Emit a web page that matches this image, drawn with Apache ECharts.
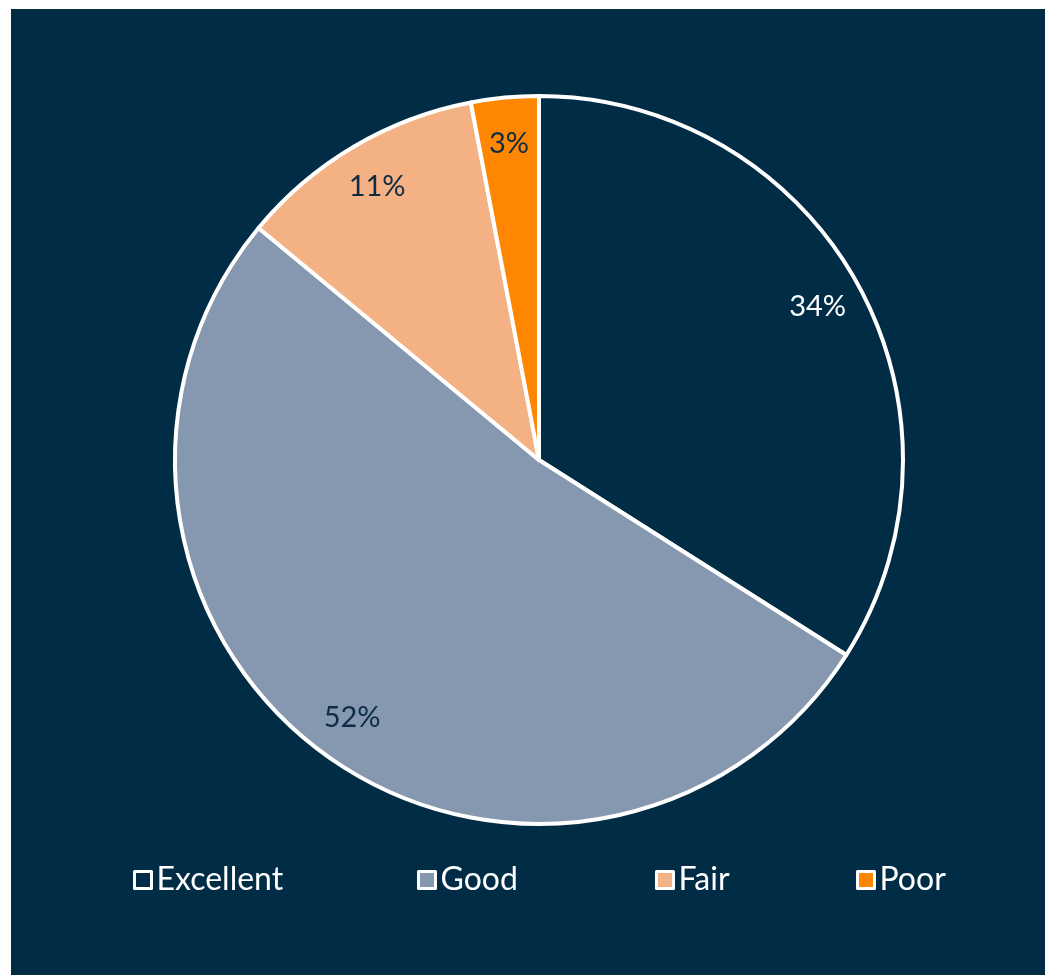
<!DOCTYPE html>
<html>
<head>
<meta charset="utf-8">
<script src="https://cdn.jsdelivr.net/npm/echarts@6/dist/echarts.min.js"></script>
<style>
html,body{margin:0;padding:0;background:#fff;}
#chart{width:1045px;height:975px;}
</style>
</head>
<body>
<div id="chart"></div>
<script>
const categories = ['Excellent', 'Good', 'Fair', 'Poor'];
const values = [34, 52, 11, 3];
const sliceColors = ['#012c46', '#8698b0', '#f4b183', '#ff8600'];
const labelColors = ['#ffffff', '#0d2c46', '#0d2c46', '#0d2c46'];

const FONT = 'Lato, "Open Sans", sans-serif';
const chart = echarts.init(document.getElementById('chart'));

const mainData = categories.map((c, i) => ({
  name: c, value: values[i],
  itemStyle: { color: sliceColors[i] }
}));
const labelData = categories.map((c, i) => ({
  name: c, value: values[i],
  label: { color: labelColors[i] }
}));

const legendLefts = [133, 417, 655, 856];
const legends = categories.map((c, i) => ({
  data: [c],
  left: legendLefts[i],
  top: 864,
  padding: 0,
  itemWidth: 17,
  itemHeight: 17,
  itemGap: 8,
  icon: 'rect',
  itemStyle: { borderColor: '#ffffff', borderWidth: 3 },
  textStyle: { color: '#ffffff', fontSize: 32, fontFamily: FONT, fontWeight: 'normal' },
  selectedMode: false
}));

chart.setOption({
  backgroundColor: '#ffffff',
  animation: false,
  graphic: [{
    type: 'rect', z: -10,
    shape: { x: 11, y: 9, width: 1034, height: 966 },
    style: { fill: '#012c46' }
  }],
  legend: legends,
  series: [
    {
      type: 'pie',
      center: [539, 460],
      radius: 364,
      startAngle: 90,
      clockwise: true,
      data: mainData,
      label: { show: false },
      labelLine: { show: false },
      itemStyle: { borderColor: '#ffffff', borderWidth: 4 },
      emphasis: { disabled: true }
    },
    {
      type: 'pie',
      center: [539, 460],
      radius: [266, 364],
      startAngle: 90,
      clockwise: true,
      silent: true,
      data: labelData,
      itemStyle: { color: 'rgba(0,0,0,0)', borderWidth: 0 },
      label: {
        show: true, position: 'inside',
        formatter: '{d}%',
        fontSize: 29, fontFamily: FONT, fontWeight: 'normal'
      },
      labelLine: { show: false },
      emphasis: { disabled: true }
    }
  ]
});
</script>
</body>
</html>
